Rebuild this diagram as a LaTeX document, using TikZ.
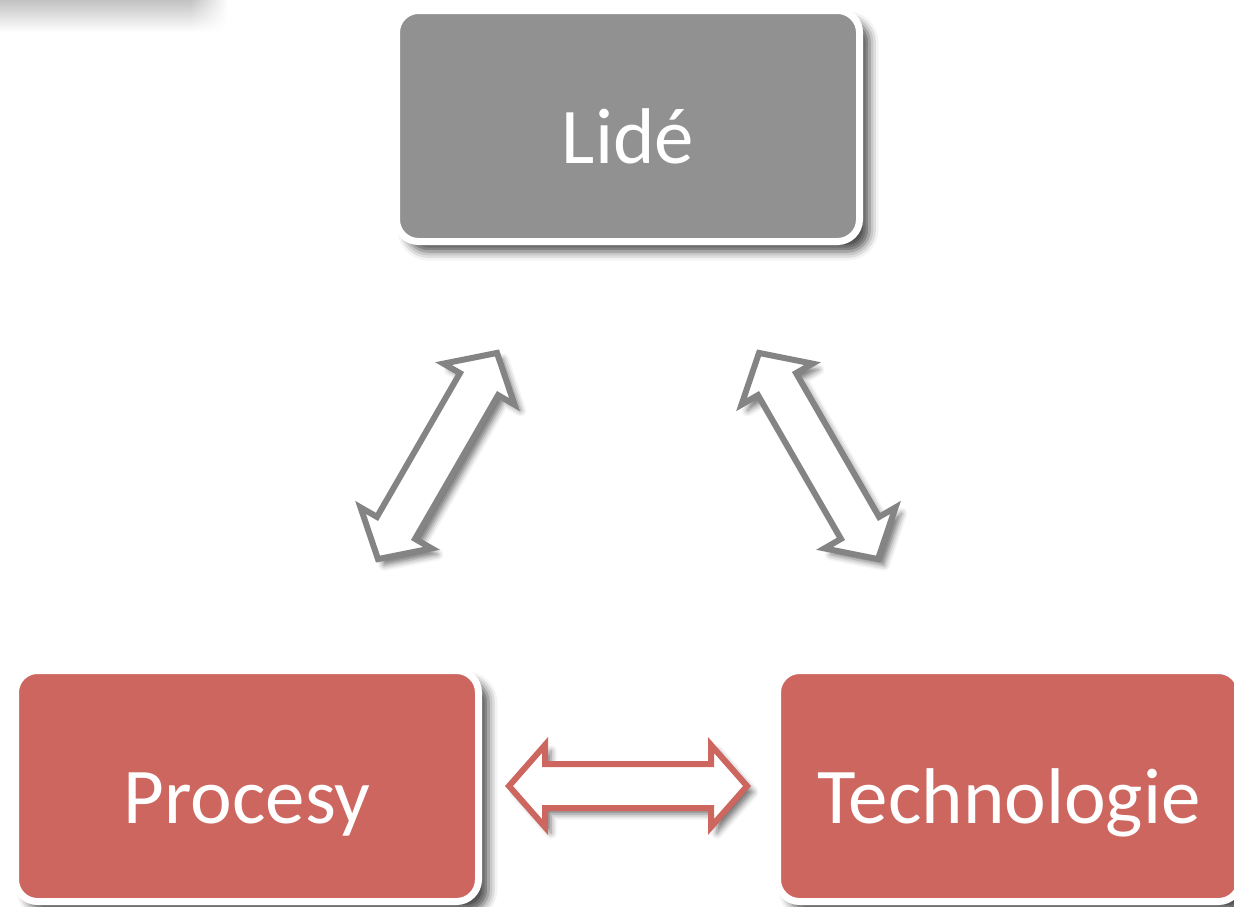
\documentclass[tikz,border=0pt]{standalone}
\usepackage{fontspec}
\setmainfont{Carlito}
\usetikzlibrary{calc,positioning,shadows.blur,fadings}

\definecolor{boxgray}{RGB}{145,145,145}
\definecolor{boxred}{RGB}{205,102,95}
\definecolor{arrowgray}{RGB}{132,132,132}
\tikzfading[name=smearfade, left color=transparent!0, right color=transparent!100]

\begin{document}
\begin{tikzpicture}[x=0.5pt, y=-0.5pt,
    box/.style={rectangle, rounded corners=11pt, draw=white, line width=3.5pt, minimum width=231.5pt, minimum height=115.5pt, text=white, text height=45pt, text depth=8pt, font=\fontsize{39.5}{45}\selectfont, blur shadow={shadow xshift=5pt, shadow yshift=-5pt, shadow blur radius=4.5pt, shadow opacity=70}},
    arrowbox/.style={draw=#1, fill=white, line width=3pt, blur shadow={shadow xshift=3pt, shadow yshift=-3pt, shadow blur radius=3pt, shadow opacity=55}},
    blockarrow/.pic={\draw[arrowbox=#1] (-119,0) -- (-83,-41) -- (-83,-22) -- (83,-22) -- (83,-41) -- (119,0) -- (83,41) -- (83,22) -- (-83,22) -- (-83,41) -- cycle;}]
    \useasboundingbox (0,0) rectangle (1234,906);
    % smear at the top left
    \shade[top color=black!24, bottom color=white] (0,0) rectangle (190,32);
    \shade[top color=black!24, bottom color=white, path fading=smearfade] (190,0) rectangle (228,32);

    \node[box, fill=boxgray] (lide) at (628,126) {Lidé};
    \node[box, fill=boxred] (procesy) at (247,786) {Procesy};
    \node[box, fill=boxred, right=146pt of procesy] (technologie) {Technologie};

    \pic[rotate=60] at ($(lide)!0.5!(procesy)$) {blockarrow=arrowgray};
    \pic[rotate=-60] at ($(lide)!0.5!(technologie)$) {blockarrow=arrowgray};
    \pic at ($(procesy)!0.5!(technologie)$) {blockarrow=boxred};
\end{tikzpicture}
\end{document}
